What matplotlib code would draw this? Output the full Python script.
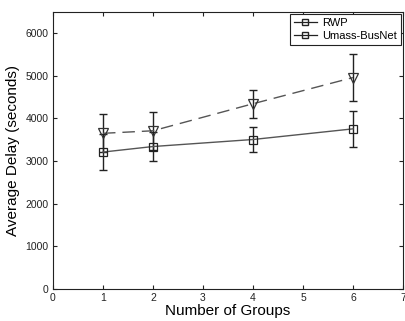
import matplotlib
matplotlib.use("Agg")
import matplotlib.pyplot as plt
from matplotlib.lines import Line2D

# ---------------------------------------------------------------------------
# Data
# ---------------------------------------------------------------------------
groups = [1, 2, 4, 6]

rwp_delay = [3210, 3340, 3505, 3755]
rwp_err = [420, 335, 290, 420]

busnet_delay = [3650, 3710, 4345, 4960]
busnet_err = [450, 450, 330, 545]

legend_labels = ["RWP", "Umass-BusNet"]
x_ticks = [0, 1, 2, 3, 4, 5, 6, 7]
y_ticks = [0, 1000, 2000, 3000, 4000, 5000, 6000]

plt.rcParams["font.family"] = ["Liberation Sans", "DejaVu Sans"]

fig = plt.figure(figsize=(4.06, 3.21), dpi=100)
ax = fig.add_axes([0.1305, 0.1006, 0.862, 0.862])

line_col = "#555555"

# solid series with squares
ax.errorbar(groups, rwp_delay, yerr=rwp_err, fmt="-", color=line_col,
            linewidth=1.0, ecolor="#222222", elinewidth=1.0,
            capsize=3, capthick=1.0, zorder=2)
ax.plot(groups, rwp_delay, "s", markersize=6, markerfacecolor="none",
        markeredgecolor="#222222", markeredgewidth=0.9, zorder=3)

# dashed series with down triangles
ax.errorbar(groups, busnet_delay, yerr=busnet_err, fmt="--", color=line_col,
            linewidth=1.0, dashes=(9, 5), ecolor="#222222", elinewidth=1.0,
            capsize=3, capthick=1.0, zorder=2)
ax.plot(groups, busnet_delay, "v", markersize=7, markerfacecolor="none",
        markeredgecolor="#333333", markeredgewidth=0.9, zorder=3)

ax.set_xlim(0, 7)
ax.set_ylim(0, 6500)
ax.set_xticks(x_ticks)
ax.set_yticks(y_ticks)
ax.tick_params(direction="in", length=3, width=0.8, labelsize=7.5,
               top=True, right=True, colors="#222222", pad=3)
for s in ax.spines.values():
    s.set_linewidth(0.8)
    s.set_color("#222222")

ax.set_xlabel("Number of Groups", fontsize=11, labelpad=1)
ax.set_ylabel("Average Delay (seconds)", fontsize=11, labelpad=4)

# legend in the original shows the square marker for both entries
handles = [Line2D([0], [0], color="#222222", linewidth=0.9, marker="s",
                  markersize=5, markerfacecolor="none",
                  markeredgecolor="#222222") for _ in legend_labels]
leg = ax.legend(handles, legend_labels, loc="upper right", fontsize=8,
                fancybox=False, framealpha=1, edgecolor="#222222",
                handlelength=2.0, handletextpad=0.5, borderpad=0.4,
                labelspacing=0.25, borderaxespad=0.15)
leg.get_frame().set_linewidth(0.8)

fig.savefig("out.png", dpi=100)
